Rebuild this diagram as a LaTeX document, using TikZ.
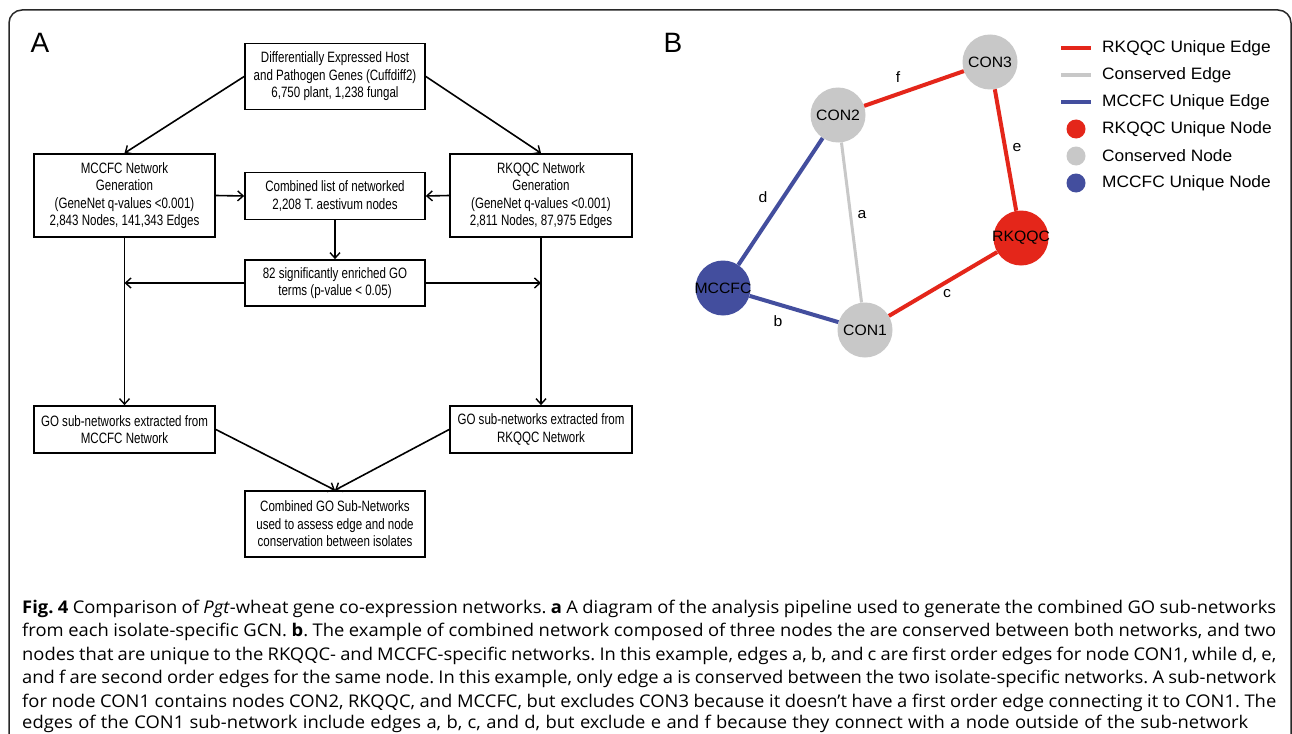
\documentclass[tikz,border=0pt]{standalone}
\usepackage{fontspec}
\setmainfont{Liberation Sans}
\newfontfamily\narrowfont[FakeStretch=0.77]{Liberation Sans}
\newfontfamily\wideArial[FakeStretch=1.05]{Liberation Sans}
\newfontfamily\capfont[FakeStretch=1.05]{Open Sans}
\usetikzlibrary{arrows.meta}
\definecolor{rkred}{RGB}{228,38,26}
\definecolor{cgray}{RGB}{200,200,200}
\definecolor{mblue}{RGB}{67,78,158}
\definecolor{framec}{RGB}{40,40,40}
\newcommand\capsetup{\capfont\fontsize{17.5}{20}\selectfont\frenchspacing\spaceskip=0.26em plus 2em minus 0.13em\relax}
\tikzset{
  flowbox/.style={draw, line width=1.7pt, rectangle, inner sep=0pt, align=center,
    font=\narrowfont\fontsize{15}{17.5}\selectfont},
  flowarrow/.style={line width=1.6pt, -{Straight Barb[length=5.5pt,width=10pt,line width=1.4pt]}},
  netnode/.style={circle, inner sep=0pt, minimum size=55pt},
  netlabel/.style={font=\wideArial\fontsize{15}{15}\selectfont, inner sep=0pt},
  edgelabel/.style={font=\wideArial\fontsize{15}{15}\selectfont, inner sep=0pt},
  legtext/.style={font=\wideArial\fontsize{16.5}{16.5}\selectfont, anchor=west, inner sep=0pt},
  capline/.style={anchor=base west, inner sep=0pt, font=\capsetup},
}
\begin{document}
\begin{tikzpicture}[x=1pt,y=-1pt]
\useasboundingbox (0,0) rectangle (1292,733);
\fill[white] (0,0) rectangle (1292,733);
% frame
\draw[framec, line width=1.5pt, rounded corners=13pt] (9,780) -- (9,10) -- (1291,10) -- (1291,780);

% ---------------- Panel A ----------------
\node[font=\fontsize{28}{28}\selectfont, inner sep=0pt] (labA) at (40,43) {A};

\node[flowbox, minimum width=180pt, minimum height=66pt] (top) at (335,76.5)
  {Differentially Expressed Host\\and Pathogen Genes (Cuffdiff2)\\6,750 plant, 1,238 fungal};
\node[flowbox, minimum width=181pt, minimum height=83pt] (mccfc) at (124.5,195.5)
  {MCCFC Network\\Generation\\(GeneNet q-values <0.001)\\2,843 Nodes, 141,343 Edges};
\node[flowbox, minimum width=180pt, minimum height=47pt] (comb) at (335,196)
  {Combined list of networked\\2,208 T. aestivum nodes};
\node[flowbox, minimum width=182pt, minimum height=83pt] (rkqqc) at (541,195.5)
  {RKQQC Network\\Generation\\(GeneNet q-values <0.001)\\2,811 Nodes, 87,975 Edges};
\node[flowbox, minimum width=180pt, minimum height=46pt] (go82) at (335,283)
  {82 significantly enriched GO\\terms (p-value < 0.05)};
\node[flowbox, minimum width=181pt, minimum height=47pt] (gom) at (124.5,429.5)
  {GO sub-networks extracted from\\MCCFC Network};
\node[flowbox, minimum width=182pt, minimum height=47pt] (gor) at (541,429.5)
  {GO sub-networks extracted from\\RKQQC Network};
\node[flowbox, minimum width=180pt, minimum height=66pt] (cgo) at (335,524)
  {Combined GO Sub-Networks\\used to assess edge and node\\conservation between isolates};

\coordinate (lj) at (mccfc.south |- go82.west);
\coordinate (rj) at (rkqqc.south |- go82.east);

\draw[flowarrow] (top.west) -- (mccfc.north);
\draw[flowarrow] (top.east) -- (rkqqc.north);
\draw[flowarrow] (mccfc.east) -- (comb.west);
\draw[flowarrow] (rkqqc.west) -- (comb.east);
\draw[flowarrow] (comb.south) -- (go82.north);
\draw[flowarrow] (go82.west) -- (lj);
\draw[flowarrow] (go82.east) -- (rj);
\draw[flowarrow] (mccfc.south) -- (gom.north);
\draw[flowarrow] (rkqqc.south) -- (gor.north);
\draw[flowarrow] (gom.east) -- (cgo.north);
\draw[flowarrow] (gor.west) -- (cgo.north);

% ---------------- Panel B ----------------
\node[font=\fontsize{28}{28}\selectfont, inner sep=0pt] (labB) at (673,43) {B};

\node[netnode, fill=cgray] (con3) at (990,62) {};
\node[netnode, fill=cgray] (con2) at (838,115) {};
\node[netnode, fill=rkred] (rk) at (1021,238) {};
\node[netnode, fill=mblue] (mc) at (723,288) {};
\node[netnode, fill=cgray] (con1) at (865,330) {};

\node[netlabel] (con3t) at (con3) {CON3};
\node[netlabel] (con2t) at (con2) {CON2};
\node[netlabel] (rkt) at (rk) {RKQQC};
\node[netlabel] (mct) at (mc) {MCCFC};
\node[netlabel] (con1t) at (con1) {CON1};

\draw[rkred, line width=4pt] (con2) -- (con3);
\draw[rkred, line width=4pt] (con3) -- (rk);
\draw[rkred, line width=4pt] (con1) -- (rk);
\draw[cgray, line width=3pt] (con2) -- (con1);
\draw[mblue, line width=4pt] (con2) -- (mc);
\draw[mblue, line width=4pt] (mc) -- (con1);

\node[edgelabel] (lf) at (898,77) {f};
\node[edgelabel] (le) at (1017,148) {e};
\node[edgelabel] (la) at (862,215) {a};
\node[edgelabel] (ld) at (763,197) {d};
\node[edgelabel] (lb) at (778,321) {b};
\node[edgelabel] (lc) at (947,294) {c};

% legend
\coordinate (l1a) at (1061,48); \coordinate (l1b) at (1091,48);
\coordinate (l2a) at (1061,75); \coordinate (l2b) at (1091,75);
\coordinate (l3a) at (1061,102); \coordinate (l3b) at (1091,102);
\draw[rkred, line width=4pt] (l1a) -- (l1b);
\draw[cgray, line width=4pt] (l2a) -- (l2b);
\draw[mblue, line width=4pt] (l3a) -- (l3b);
\node[circle, fill=rkred, inner sep=0pt, minimum size=19pt] (g4) at (1076,129) {};
\node[circle, fill=cgray, inner sep=0pt, minimum size=19pt] (g5) at (1076,156) {};
\node[circle, fill=mblue, inner sep=0pt, minimum size=19pt] (g6) at (1076,183) {};
\node[legtext] (t1) at (1102,48) {RKQQC Unique Edge};
\node[legtext] (t2) at (1102,75) {Conserved Edge};
\node[legtext] (t3) at (1102,102) {MCCFC Unique Edge};
\node[legtext] (t4) at (1102,129) {RKQQC Unique Node};
\node[legtext] (t5) at (1102,156) {Conserved Node};
\node[legtext] (t6) at (1102,183) {MCCFC Unique Node};

% ---------------- Caption ----------------
\node[capline] (c1) at (22,613) {\makebox[1254pt][s]{\textbf{Fig. 4} Comparison of \textit{Pgt}-wheat gene co-expression networks. \textbf{a} A diagram of the analysis pipeline used to generate the combined GO sub-networks}};
\node[capline] (c2) at (22,636.5) {\makebox[1254pt][s]{from each isolate-specific GCN. \textbf{b}. The example of combined network composed of three nodes the are conserved between both networks, and two}};
\node[capline] (c3) at (22,660) {\makebox[1254pt][s]{nodes that are unique to the RKQQC- and MCCFC-specific networks. In this example, edges a, b, and c are first order edges for node CON1, while d, e,}};
\node[capline] (c4) at (22,683.5) {\makebox[1254pt][s]{and f are second order edges for the same node. In this example, only edge a is conserved between the two isolate-specific networks. A sub-network}};
\node[capline] (c5) at (22,707) {\makebox[1254pt][s]{for node CON1 contains nodes CON2, RKQQC, and MCCFC, but excludes CON3 because it doesn’t have a first order edge connecting it to CON1. The}};
\node[capline] (c6) at (22,728.5) {\makebox[1226pt][s]{edges of the CON1 sub-network include edges a, b, c, and d, but exclude e and f because they connect with a node outside of the sub-network}};
\end{tikzpicture}
\end{document}
